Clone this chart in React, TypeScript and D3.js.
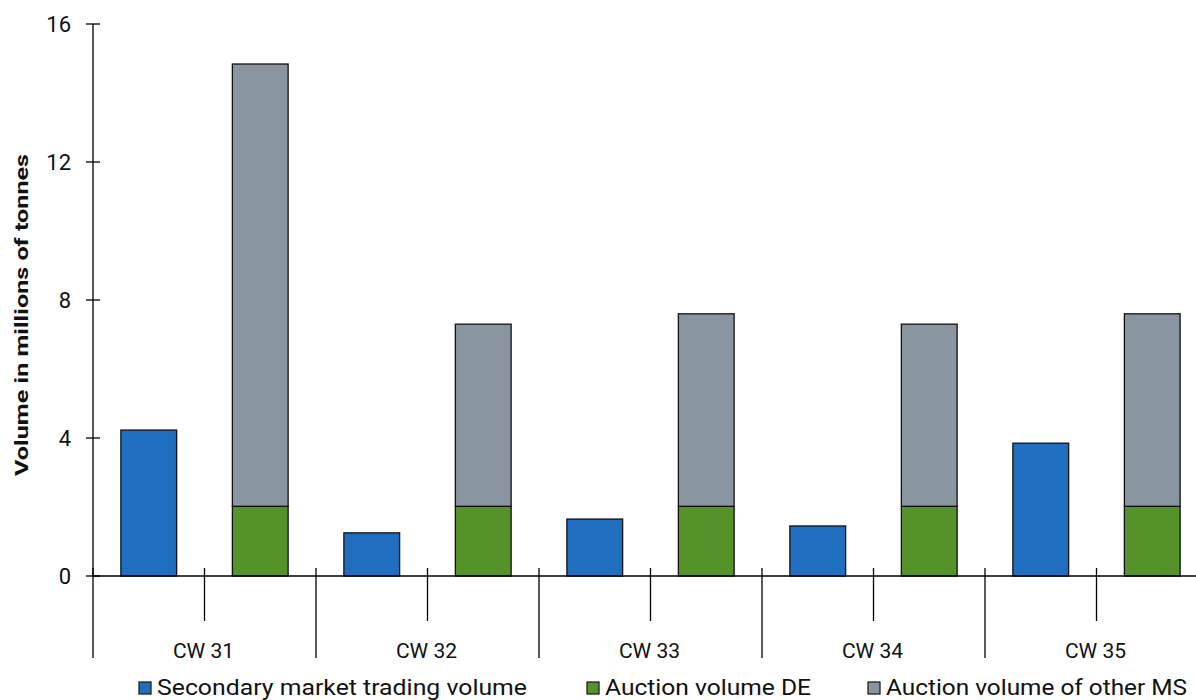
import * as d3 from 'd3';

const weeks = ['CW 31', 'CW 32', 'CW 33', 'CW 34', 'CW 35'];
const secondaryVolume = [4.23, 1.25, 1.65, 1.45, 3.85];
const auctionDE = [2.02, 2.02, 2.02, 2.02, 2.02];
const auctionOtherMS = [12.82, 5.28, 5.58, 5.28, 5.58];
const yTicks = [0, 4, 8, 12, 16];
const legendItems = [
  { label: 'Secondary market trading volume', color: '#1f6ec0', length: 370 },
  { label: 'Auction volume DE', color: '#559229', length: 206 },
  { label: 'Auction volume of other MS', color: '#8a95a2', length: 301 },
];

const WIDTH = 1196;
const HEIGHT = 700;
const FONT = 'Roboto, sans-serif';

export default function App() {
  const left = 93;
  const groupStep = 223;
  const y = d3.scaleLinear().domain([0, 16]).range([576, 24]);
  const x = d3
    .scaleBand<string>()
    .domain(weeks)
    .range([left, left + groupStep * weeks.length])
    .padding(0);
  const sub = d3
    .scaleBand<string>()
    .domain(['secondary', 'auction'])
    .range([0, x.bandwidth()])
    .paddingInner(0.5)
    .paddingOuter(0.25);

  const stack = weeks.map((w, i) => ({
    week: w,
    secondary: secondaryVolume[i],
    de: auctionDE[i],
    other: auctionOtherMS[i],
  }));

  const y0 = y(0);
  const bw = sub.bandwidth();

  return (
    <svg
      width={WIDTH}
      height={HEIGHT}
      style={{ position: 'absolute', left: 0, top: 0, fontFamily: FONT }}
    >
      {/* y axis */}
      <line x1={left} x2={left} y1={y(16)} y2={y0} stroke="#000" strokeWidth={1.3} />
      {yTicks.map((t) => (
        <g key={t}>
          <line x1={left - 7} x2={left + 7} y1={y(t)} y2={y(t)} stroke="#000" strokeWidth={1.3} />
          <text x={71} y={y(t)} dy="0.36em" textAnchor="end" fontSize={22} fill="#111">
            {t}
          </text>
        </g>
      ))}
      <text
        transform={`translate(28,${315}) rotate(-90)`}
        textAnchor="middle"
        fontSize={19}
        fontWeight="bold"
        textLength={322}
        lengthAdjust="spacingAndGlyphs"
        fill="#111"
      >
        Volume in millions of tonnes
      </text>

      {/* bars */}
      {stack.map((d) => {
        const gx = x(d.week) ?? 0;
        const xs = gx + (sub('secondary') ?? 0);
        const xa = gx + (sub('auction') ?? 0);
        return (
          <g key={d.week} stroke="#111" strokeWidth={1.3}>
            <rect x={xs} y={y(d.secondary)} width={bw} height={y0 - y(d.secondary)} fill="#1f6ec0" />
            <rect x={xa} y={y(d.de)} width={bw} height={y0 - y(d.de)} fill="#559229" />
            <rect
              x={xa}
              y={y(d.de + d.other)}
              width={bw}
              height={y(d.de) - y(d.de + d.other)}
              fill="#8a95a2"
            />
          </g>
        );
      })}

      {/* x axis */}
      <line x1={left} x2={WIDTH} y1={y0} y2={y0} stroke="#000" strokeWidth={1.3} />
      {weeks.map((w) => {
        const gx = x(w) ?? 0;
        const cx = gx + x.bandwidth() / 2;
        return (
          <g key={w}>
            <line x1={gx} x2={gx} y1={y0 - 8} y2={658} stroke="#000" strokeWidth={1.3} />
            <line x1={cx} x2={cx} y1={y0 - 8} y2={621} stroke="#000" strokeWidth={1.3} />
            <text x={cx - 1} y={658} textAnchor="middle" fontSize={21} fill="#111">
              {w}
            </text>
          </g>
        );
      })}

      {/* legend */}
      {legendItems.map((item, i) => {
        const lx = [139, 587, 868][i];
        return (
          <g key={item.label}>
            <rect x={lx} y={682} width={12} height={12} fill={item.color} stroke="#222" strokeWidth={1.3} />
            <text
              x={lx + 18}
              y={695}
              fontSize={22}
              fill="#111"
              textLength={item.length}
              lengthAdjust="spacingAndGlyphs"
            >
              {item.label}
            </text>
          </g>
        );
      })}
    </svg>
  );
}
